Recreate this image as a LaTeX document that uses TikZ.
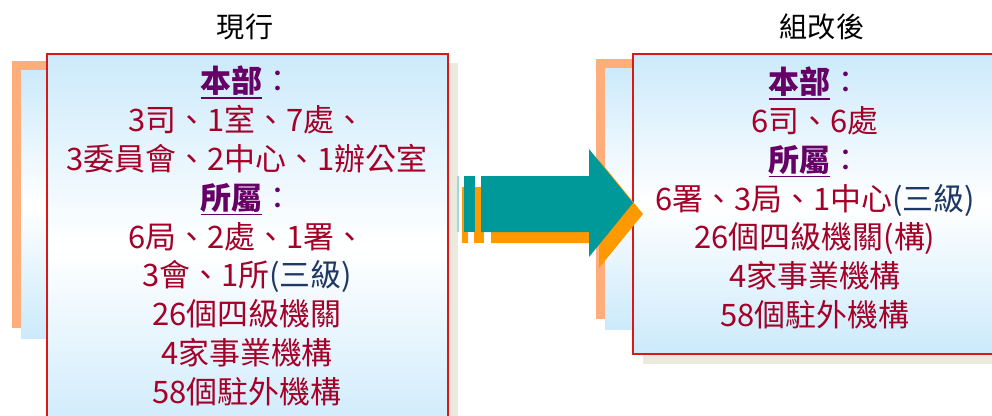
\documentclass[tikz,border=0pt]{standalone}
\usepackage{fontspec}
\setmainfont{Noto Sans CJK TC}
\definecolor{boxred}{RGB}{215,25,25}
\definecolor{paleblue}{RGB}{204,234,251}
\definecolor{barorange}{RGB}{255,173,122}
\definecolor{shadowbeige}{RGB}{236,233,223}
\definecolor{arrowteal}{RGB}{0,153,153}
\definecolor{fainteal}{RGB}{160,215,215}
\definecolor{arroworange}{RGB}{255,153,0}
\definecolor{textred}{RGB}{165,0,40}
\definecolor{headpurple}{RGB}{102,0,102}
\definecolor{tierblue}{RGB}{31,56,100}
\newcommand{\headline}[1]{{\color{headpurple}\setbox0\hbox{\bfseries #1}\rlap{\rule[-0.2em]{\wd0}{1.4pt}}\box0：}}
\newcommand{\tier}{{\color{tierblue}(三級)}}

\begin{document}
\begin{tikzpicture}[x=0.025cm, y=-0.025cm,
    panel/.style={draw=boxred, line width=1.4pt, top color=paleblue, bottom color=paleblue, middle color=white},
    strip/.style={top color=paleblue, bottom color=paleblue, middle color=white},
    listtext/.style={text=textred, align=center, inner sep=0pt, font=\fontsize{22}{27.6}\selectfont},
    title/.style={text=black, font=\fontsize{20}{24}\selectfont}]

        % Page frame
        \useasboundingbox (0,0) rectangle (992,415);
        \clip (0,0) rectangle (992,415);

        % Present organisation
        \fill[barorange] (12,61) rectangle (60,328);
        \shade[strip] (21,70) rectangle (60,338);
        \fill[shadowbeige] (57,63) rectangle (458,450);
        \draw[panel] (47,54) rectangle (448,440);
        \node[title] (nowtitle) at (245,27) {現行};
        \node[listtext] (nowlist) at (247,236) {\headline{本部}\\
            3司、1室、7處、\\
            3委員會、2中心、1辦公室\\
            \headline{所屬}\\
            6局、2處、1署、\\
            3會、1所\tier\\
            26個四級機關\\
            4家事業機構\\
            58個駐外機構};

        % Reorganised
        \fill[barorange] (596,59) rectangle (640,319);
        \shade[strip] (605,68) rectangle (640,329);
        \fill[shadowbeige] (643,63) rectangle (1010,364);
        \draw[panel] (633,54) rectangle (1000,354);
        \node[title] (newtitle) at (822,27) {組改後};
        \node[listtext] (newlist) at (815,198) {\headline{本部}\\
            6司、6處\\
            \headline{所屬}\\
            6署、3局、1中心\tier\\
            26個四級機關(構)\\
            4家事業機構\\
            58個駐外機構};

        % Block arrow
        \fill[arroworange] (462,187) rectangle (468,243);
        \fill[arroworange] (474,187) rectangle (484,243);
        \fill[arroworange] (491,187) -- (599,187) -- (599,160) -- (643,214) -- (599,268) -- (599,243) -- (491,243) -- cycle;
        \fill[fainteal] (457,176) rectangle (459,232);
        \fill[arrowteal] (464,176) rectangle (475,232);
        \fill[arrowteal] (481,176) -- (589,176) -- (589,149) -- (633,203) -- (589,257) -- (589,232) -- (481,232) -- cycle;
    \end{tikzpicture}
\end{document}
